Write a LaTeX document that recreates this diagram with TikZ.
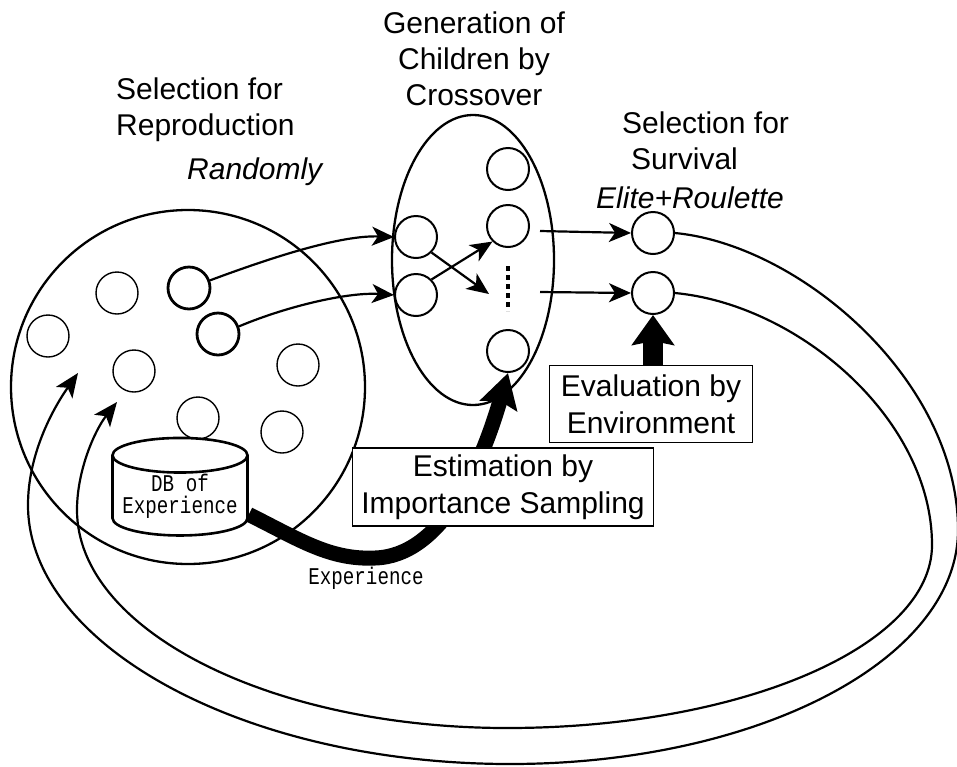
\documentclass[tikz,border=0pt]{standalone}
\usepackage{fontspec}
\setmainfont{Liberation Sans}
\newfontfamily\dbfont[FakeStretch=0.8]{Liberation Mono}
\usetikzlibrary{shapes.geometric,arrows.meta}

\begin{document}
\begin{tikzpicture}[x=1pt,y=-1pt,
    every node/.style={inner sep=0pt},
    indiv/.style={circle,draw,line width=1.4pt,minimum size=42pt},
    chosen/.style={indiv,line width=2.8pt},
    txt/.style={font=\fontsize{30}{36}\selectfont},
    mono/.style={font=\dbfont\fontsize{24}{22}\selectfont},
    box/.style={draw,fill=white,line width=1.8pt,align=center,font=\fontsize{30}{37}\selectfont},
    link/.style={line width=2.2pt,-{Stealth[length=22pt,width=19pt,inset=6pt]}},
    back/.style={line width=2.2pt,-{Stealth[length=24pt,width=20pt,inset=6pt]}},
    flow/.style={line width=15pt,-{Stealth[length=34pt,width=38pt,inset=5pt]}}]
    \useasboundingbox (0,0) rectangle (957,766);

    \node[circle,draw,line width=2.3pt,minimum size=354pt] (pool) at (188,387) {};
    \node[indiv] (p1) at (48,336) {};
    \node[indiv] (p2) at (117,293) {};
    \node[chosen] (p3) at (189,288) {};
    \node[chosen] (p4) at (218,334) {};
    \node[indiv] (p5) at (134,371) {};
    \node[indiv] (p6) at (298,365) {};
    \node[indiv] (p7) at (198,418) {};
    \node[indiv] (p8) at (282,432) {};
    \node[cylinder,shape border rotate=90,draw,line width=2.6pt,fill=white,
          minimum width=135pt,minimum height=95pt,aspect=0.3,align=center,mono] (db) at (180,496) {DB of\\Experience};

    \node[ellipse,draw,line width=2.3pt,minimum width=162pt,minimum height=290pt] (gen) at (473,260) {};
    \node[indiv,line width=2pt] (m1) at (416,237) {};
    \node[indiv,line width=2pt] (m2) at (416,295) {};
    \node[indiv,line width=2pt] (c0) at (508,169) {};
    \node[indiv,line width=2pt] (c1) at (508,226) {};
    \node[indiv,line width=2pt] (c5) at (508,351) {};
    \coordinate (dtop) at (508,266);
    \coordinate (dbot) at (508,311);
    \coordinate (cr) at (489,294);
    \coordinate (o1) at (540,231);
    \coordinate (o2) at (540,292);

    \node[indiv,line width=2pt] (s1) at (653,233) {};
    \node[indiv,line width=2pt] (s2) at (653,293) {};

    \node[txt,anchor=north west,align=left] (reprod) at (116,78) {Selection for\\Reproduction};
    \node[txt,anchor=west] (rand) at (187,172) {\itshape Randomly};
    \node[txt,anchor=north,align=center] (cross) at (474,12) {Generation of\\Children by\\Crossover};
    \node[txt,anchor=north west,align=left] (surv) at (622,112) {Selection for\\\hspace*{9pt}Survival};
    \node[txt,anchor=west] (elite) at (596,198) {\itshape Elite+Roulette};
    \node[mono] (exp) at (366,578) {Experience};

    \draw[link] (p3.20) .. controls (270,258) and (340,235) .. (m1.west);
    \draw[link] (p4.20) .. controls (290,305) and (350,292) .. (m2.west);
    \draw[link] (m1.-45) -- (cr);
    \draw[link] (m2.45) -- (c1.south west);
    \draw[line width=4pt,dash pattern=on 5pt off 4pt] (dtop) -- (dbot);
    \draw[link] (o1) -- (s1.west);
    \draw[link] (o2) -- (s2.west);

    \draw[flow] (db.-15) .. controls (300,540) and (330,560) .. (375,558)
        .. controls (440,556) and (480,470) .. (c5.south);
    \node[box,minimum width=301pt,minimum height=78pt] (estim) at (503,487) {Estimation by\\Importance Sampling};
    \node[box,minimum width=203pt,minimum height=77pt] (evalb) at (651,404) {Evaluation by\\Environment};
    \draw[line width=20pt,-{Stealth[length=30pt,width=42pt,inset=4pt]}] (evalb.north -| s2.south) -- (s2.south);

    \coordinate (r1) at (78,373);
    \coordinate (r2) at (117,402);
    \draw[back] (s1.east) .. controls (800,245) and (958,380) .. (958,530)
        .. controls (958,660) and (757,764) .. (510,764)
        .. controls (244,764) and (28,645) .. (28,505)
        .. controls (28,455) and (52,410) .. (r1);
    \draw[back] (s2.east) .. controls (800,305) and (932,420) .. (932,545)
        .. controls (932,646) and (742,728) .. (507,728)
        .. controls (270,728) and (77,630) .. (77,510)
        .. controls (77,470) and (95,430) .. (r2);
\end{tikzpicture}
\end{document}
